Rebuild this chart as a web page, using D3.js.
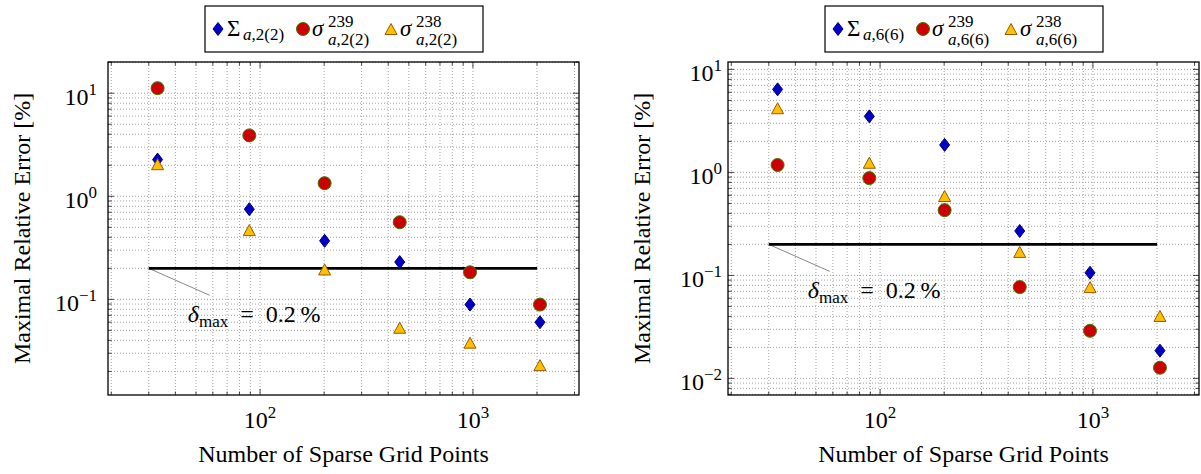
<!DOCTYPE html>
<html>
<head>
<meta charset="utf-8">
<script src="https://cdn.jsdelivr.net/npm/d3@7"></script>
<style>
  body { margin: 0; background: #fff; }
  svg { display: block; }
</style>
</head>
<body>
<div class="chart"></div>
<script>
// number of sparse grid points (shared by both panels)
var gridPoints = [33, 89, 201, 453, 969, 2065];

// level 2(2)
var sigmaA2 = [2.27, 0.75, 0.37, 0.23, 0.089, 0.060];
var sigma239A2 = [11.2, 3.9, 1.34, 0.56, 0.183, 0.089];
var sigma238A2 = [2.05, 0.47, 0.195, 0.053, 0.038, 0.023];

// level 6(6)
var sigmaA6 = [6.4, 3.5, 1.85, 0.27, 0.106, 0.0186];
var sigma239A6 = [1.18, 0.88, 0.43, 0.077, 0.029, 0.0127];
var sigma238A6 = [4.2, 1.24, 0.59, 0.169, 0.077, 0.0404];

var deltaMax = 0.2;
var deltaRange = [30, 2000];

var xDomain = [19.3, 3150];
var xTicks = [100, 1000];
var yDomainLeft = [0.0118, 20.1];
var yTicksLeft = [0.1, 1, 10];
var yDomainRight = [0.0069, 11.8];
var yTicksRight = [0.01, 0.1, 1, 10];

var width = 1201, height = 474;
var plotW = 471, plotH = 333, plotTop = 62;
var serif = "'Liberation Serif', 'DejaVu Serif', serif";

var svg = d3.select('.chart')
    .append('svg')
    .attr('width', width)
    .attr('height', height)
    .attr('font-family', serif);

var markers = [
    { name: 'Σ', sup: '', path: 'M0,-6.5 L5,0 L0,6.5 L-5,0 Z', fill: '#0000c8', stroke: '#00007a' },
    { name: 'σ', sup: '239', circle: true, fill: '#cc0000', stroke: '#3c7a00' },
    { name: 'σ', sup: '238', path: 'M0,-5.5 L6,5.5 L-6,5.5 Z', fill: '#ffc000', stroke: '#9a5a00' }
];

var panels = [
    { left: 108, sub: '2(2)', yDomain: yDomainLeft, yTicks: yTicksLeft, labelGap: 11,
      series: [sigmaA2, sigma239A2, sigma238A2] },
    { left: 728, sub: '6(6)', yDomain: yDomainRight, yTicks: yTicksRight, labelGap: 6,
      series: [sigmaA6, sigma239A6, sigma238A6] }
];

panels.forEach(drawPanel);

function minorValues(domain) {
    var out = [];
    var lo = Math.floor(Math.log10(domain[0]));
    var hi = Math.ceil(Math.log10(domain[1]));
    for (var e = lo; e <= hi; e++) {
        for (var m = 1; m <= 9; m++) {
            var v = m * Math.pow(10, e);
            if (v >= domain[0] && v <= domain[1]) {
                out.push({ v: v, major: m === 1 });
            }
        }
    }
    return out;
}

function powLabel(text, value) {
    var exp = Math.round(Math.log10(value));
    text.text('10');
    text.append('tspan')
        .attr('dy', -10)
        .attr('font-size', 17)
        .text(exp < 0 ? '\u2212' + (-exp) : exp);
}

function drawMarker(g, m, x, y) {
    if (m.circle) {
        g.append('circle')
            .attr('cx', x)
            .attr('cy', y)
            .attr('r', 6.5)
            .attr('fill', m.fill)
            .attr('stroke', m.stroke)
            .attr('stroke-width', 1);
    } else {
        g.append('path')
            .attr('transform', 'translate(' + x + ',' + y + ')')
            .attr('d', m.path)
            .attr('fill', m.fill)
            .attr('stroke', m.stroke)
            .attr('stroke-width', 1);
    }
}

function drawPanel(p) {
    var g = svg.append('g')
        .attr('transform', 'translate(' + p.left + ',' + plotTop + ')');

    var x = d3.scaleLog().domain(xDomain).range([0, plotW]);
    var y = d3.scaleLog().domain(p.yDomain).range([plotH, 0]);

    var xs = minorValues(xDomain);
    var ys = minorValues(p.yDomain);

    // dotted grid
    g.selectAll('.gx')
        .data(xs)
        .enter()
        .append('line')
        .attr('x1', function(d) { return x(d.v); })
        .attr('x2', function(d) { return x(d.v); })
        .attr('y1', 0)
        .attr('y2', plotH)
        .attr('stroke', '#8c8c8c')
        .attr('stroke-width', 0.8)
        .attr('stroke-dasharray', '1,2');

    g.selectAll('.gy')
        .data(ys)
        .enter()
        .append('line')
        .attr('y1', function(d) { return y(d.v); })
        .attr('y2', function(d) { return y(d.v); })
        .attr('x1', 0)
        .attr('x2', plotW)
        .attr('stroke', '#8c8c8c')
        .attr('stroke-width', 0.8)
        .attr('stroke-dasharray', '1,2');

    // inward ticks on all sides
    xs.forEach(function(d) {
        var len = d.major ? 6 : 3.5;
        var px = x(d.v);
        g.append('line').attr('x1', px).attr('x2', px).attr('y1', plotH).attr('y2', plotH - len)
            .attr('stroke', '#000').attr('stroke-width', 0.7);
        g.append('line').attr('x1', px).attr('x2', px).attr('y1', 0).attr('y2', len)
            .attr('stroke', '#000').attr('stroke-width', 0.7);
    });
    ys.forEach(function(d) {
        var len = d.major ? 6 : 3.5;
        var py = y(d.v);
        g.append('line').attr('y1', py).attr('y2', py).attr('x1', 0).attr('x2', len)
            .attr('stroke', '#000').attr('stroke-width', 0.7);
        g.append('line').attr('y1', py).attr('y2', py).attr('x1', plotW).attr('x2', plotW - len)
            .attr('stroke', '#000').attr('stroke-width', 0.7);
    });

    // frame
    g.append('rect')
        .attr('width', plotW)
        .attr('height', plotH)
        .attr('fill', 'none')
        .attr('stroke', '#000')
        .attr('stroke-width', 1.3);

    // tick labels
    xTicks.forEach(function(t) {
        g.append('text')
            .attr('x', x(t))
            .attr('y', plotH + 33)
            .attr('text-anchor', 'middle')
            .attr('font-size', 24)
            .call(powLabel, t);
    });
    p.yTicks.forEach(function(t) {
        g.append('text')
            .attr('x', -p.labelGap)
            .attr('y', y(t) + 12)
            .attr('text-anchor', 'end')
            .attr('font-size', 24)
            .call(powLabel, t);
    });

    // axis titles
    g.append('text')
        .attr('x', plotW / 2)
        .attr('y', plotH + 67)
        .attr('text-anchor', 'middle')
        .attr('font-size', 24)
        .text('Number of Sparse Grid Points');

    g.append('text')
        .attr('transform', 'translate(-78,' + (plotH / 2) + ') rotate(-90)')
        .attr('text-anchor', 'middle')
        .attr('font-size', 24)
        .text('Maximal Relative Error [%]');

    // delta_max threshold line with pin
    var ax = x(deltaRange[0]);
    var ay = y(deltaMax);
    g.append('line')
        .attr('x1', ax)
        .attr('x2', ax + 61)
        .attr('y1', ay)
        .attr('y2', ay + 27)
        .attr('stroke', '#888')
        .attr('stroke-width', 1);
    g.append('line')
        .attr('x1', ax)
        .attr('x2', x(deltaRange[1]))
        .attr('y1', ay)
        .attr('y2', ay)
        .attr('stroke', '#000')
        .attr('stroke-width', 2.6);

    var note = g.append('text')
        .attr('x', ax + 39)
        .attr('y', ay + 54)
        .attr('font-size', 24);
    note.append('tspan').attr('font-style', 'italic').text('δ');
    note.append('tspan').attr('font-size', 17).attr('dy', 5).text('max');
    note.append('tspan').attr('dy', -5).text('\u2002=\u20020.2\u2009%');

    // data points
    p.series.forEach(function(vals, si) {
        vals.forEach(function(v, i) {
            drawMarker(g, markers[si], x(gridPoints[i]), y(v));
        });
    });

    // legend
    var lx = 97, ly = -56;
    var lg = g.append('g').attr('transform', 'translate(' + lx + ',' + ly + ')');
    lg.append('rect')
        .attr('width', 278)
        .attr('height', 46)
        .attr('fill', '#fff')
        .attr('stroke', '#000')
        .attr('stroke-width', 1.2);

    var itemX = [13, 98, 186];
    markers.forEach(function(m, i) {
        var cx = itemX[i];
        drawMarker(lg, m, cx, 23);
        var t = lg.append('text')
            .attr('x', cx + 9)
            .attr('y', 30)
            .attr('font-size', 23);
        if (m.sup === '') {
            t.text('Σ');
            var s = lg.append('text')
                .attr('x', cx + 25)
                .attr('y', 34)
                .attr('font-size', 17);
            s.append('tspan').attr('font-style', 'italic').text('a');
            s.append('tspan').text(',' + p.sub);
        } else {
            t.attr('font-style', 'italic').text('σ');
            lg.append('text')
                .attr('x', cx + 25)
                .attr('y', 21)
                .attr('font-size', 17)
                .text(m.sup);
            var s2 = lg.append('text')
                .attr('x', cx + 25)
                .attr('y', 39)
                .attr('font-size', 17);
            s2.append('tspan').attr('font-style', 'italic').text('a');
            s2.append('tspan').text(',' + p.sub);
        }
    });
}
</script>
</body>
</html>
